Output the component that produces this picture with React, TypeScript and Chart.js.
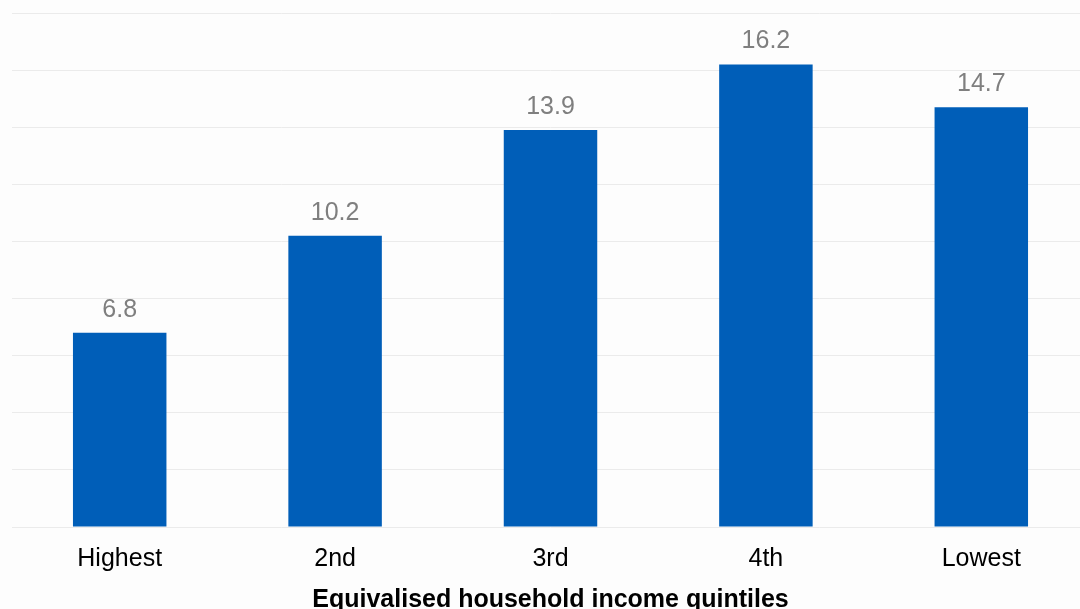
import React, { useEffect, useRef } from "react";
import { Chart, registerables } from "chart.js";

Chart.register(...registerables);

const categories: string[] = ["Highest", "2nd", "3rd", "4th", "Lowest"];
const values: number[] = [6.8, 10.2, 13.9, 16.2, 14.7];
const xAxisTitle = "Equivalised household income quintiles";
const yMin = 0;
const yMax = 18;
const yStep = 2;

const FONT = "'Liberation Sans', Arial, sans-serif";

const valueLabelPlugin = {
  id: "valueLabels",
  afterDatasetsDraw(chart: any) {
    const ctx = chart.ctx;
    const meta = chart.getDatasetMeta(0);
    ctx.save();
    ctx.font = `25px ${FONT}`;
    ctx.fillStyle = "#7f7f7f";
    ctx.textAlign = "center";
    ctx.textBaseline = "alphabetic";
    meta.data.forEach((el: any, i: number) => {
      ctx.fillText(values[i].toFixed(1), el.x, el.y - 16);
    });
    ctx.restore();
  },
};

export default function App() {
  const canvasRef = useRef<HTMLCanvasElement | null>(null);

  useEffect(() => {
    if (!canvasRef.current) return;
    const chart = new Chart(canvasRef.current, {
      type: "bar",
      data: {
        labels: categories,
        datasets: [
          {
            data: values,
            backgroundColor: "#005eb8",
            borderWidth: 0,
            categoryPercentage: 1,
            barPercentage: 0.434,
          },
        ],
      },
      options: {
        responsive: false,
        animation: false,
        devicePixelRatio: 1,
        layout: { padding: { left: 12, right: 0, top: 13, bottom: 0 } },
        plugins: {
          legend: { display: false },
          tooltip: { enabled: false },
          title: { display: false },
        },
        scales: {
          x: {
            grid: { display: false, drawTicks: false },
            border: { display: false },
            ticks: {
              color: "#000000",
              font: { family: FONT, size: 25 },
              padding: 17,
            },
            title: {
              display: true,
              text: xAxisTitle,
              color: "#000000",
              font: { family: FONT, size: 25, weight: "bold" },
              padding: { top: -6, bottom: 0 },
            },
          },
          y: {
            min: yMin,
            max: yMax,
            ticks: { display: false, stepSize: yStep },
            grid: { color: "#ebebeb", lineWidth: 1, drawTicks: false },
            border: { display: false },
          },
        },
      },
      plugins: [valueLabelPlugin],
    });
    return () => chart.destroy();
  }, []);

  return (
    <div
      style={{
        position: "fixed",
        left: 0,
        top: 0,
        width: 1080,
        height: 609,
        overflow: "hidden",
        background: "#fdfdfd",
      }}
    >
      <canvas
        ref={canvasRef}
        width={1089}
        height={615}
        style={{ width: 1089, height: 615, display: "block" }}
      />
    </div>
  );
}
